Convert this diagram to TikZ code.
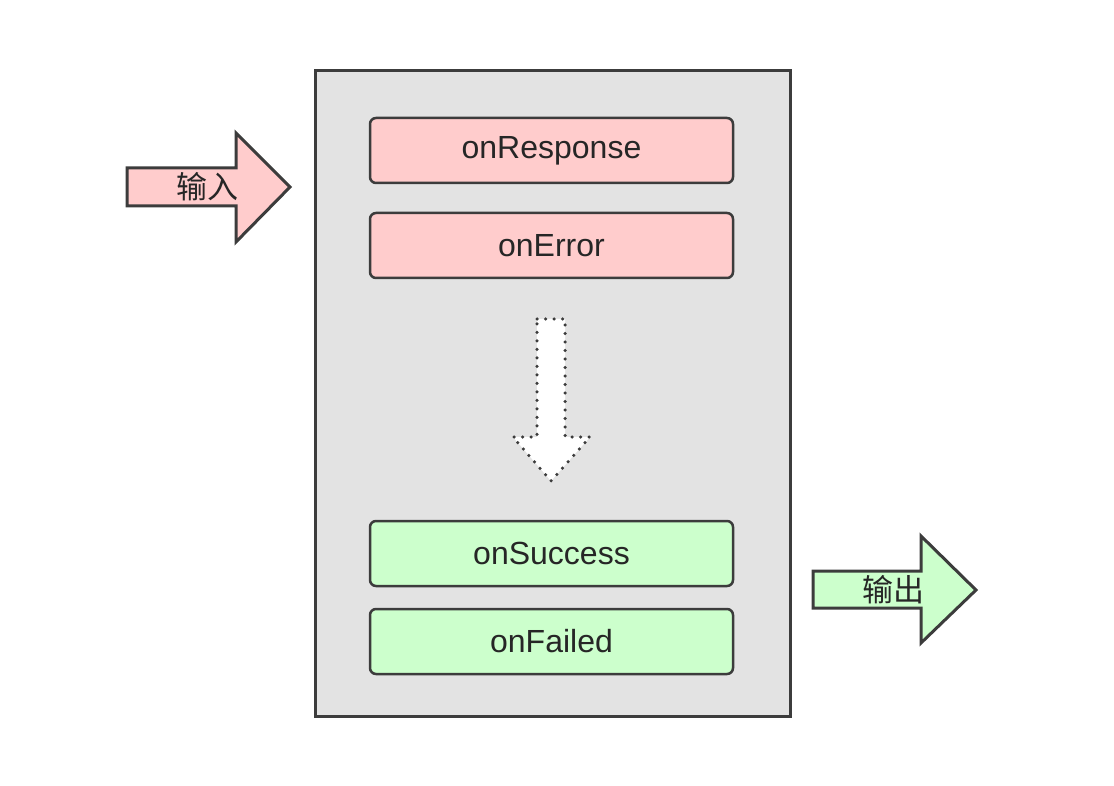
\documentclass[tikz,border=0pt]{standalone}
\usepackage{fontspec}
\setmainfont{Liberation Sans}
\newfontfamily\cjk{Noto Sans CJK SC}
\definecolor{edge}{HTML}{3C3C3C}
\definecolor{panel}{HTML}{E3E3E3}
\definecolor{pinkf}{HTML}{FFCCCC}
\definecolor{greenf}{HTML}{CCFFCC}
\begin{document}
\begin{tikzpicture}[x=1pt,y=-1pt,
  panelbox/.style={draw=edge,line width=3pt,fill=panel},
  cb/.style={draw=edge,line width=2.5pt,rounded corners=6pt,minimum width=363pt,minimum height=65pt,inner sep=0pt,font=\fontsize{32}{36}\selectfont,text=black!85},
  blockarrow/.style={draw=edge,line width=3pt,line join=miter},
  cjklabel/.style={font=\cjk\fontsize{31}{34}\selectfont,text=black!85,inner sep=0pt}]
\useasboundingbox (0,0) rectangle (1114,786);
\node[panelbox,minimum width=475pt,minimum height=646pt,anchor=north west,inner sep=0pt] (panel) at (314,69) {};
\node[cb,fill=pinkf] (resp) at (551.5,150.5) {onResponse};
\node[cb,fill=pinkf] (err) at (551.5,245.5) {onError};
\node[cb,fill=greenf] (succ) at (551.5,553.5) {onSuccess};
\node[cb,fill=greenf] (fail) at (551.5,641.5) {onFailed};
% input arrow
\draw[blockarrow,fill=pinkf] (127,168) -- (236,168) -- (236,133) -- (290,187) -- (236,242) -- (236,206) -- (127,206) -- cycle;
\node[cjklabel] (in) at (207,187) {输入};
% output arrow
\draw[blockarrow,fill=greenf] (813,571) -- (921,571) -- (921,536) -- (976,590) -- (921,643) -- (921,608) -- (813,608) -- cycle;
\node[cjklabel] (out) at (893,590) {输出};
% dotted flow arrow
\draw[draw=edge,line width=3.5pt,line cap=round,dash pattern=on 0pt off 8.5pt,fill=white] (537,319) -- (565,319) -- (565,437) -- (590,437) -- (551,481) -- (513,437) -- (537,437) -- cycle;
\end{tikzpicture}
\end{document}
